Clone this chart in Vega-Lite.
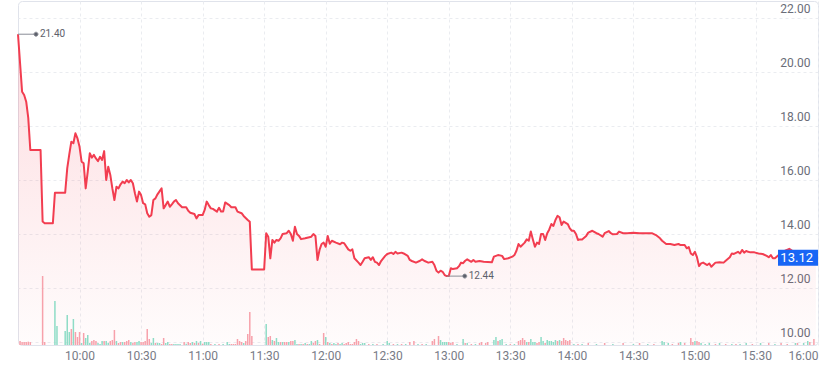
{
  "$schema": "https://vega.github.io/schema/vega-lite/v6.json",
  "width": 800,
  "height": 344,
  "autosize": {"type": "none"},
  "padding": {"left": 18, "top": 1, "right": 20, "bottom": 21},
  "background": "white",
  "config": {"view": {"stroke": "#e0e3eb", "cornerRadius": 4}, "font": "Roboto"},
  "datasets": {
    "price": [
      {"t":"09:30","p":21.40},{"t":"09:32","p":19.27},{"t":"09:33","p":19.15},{"t":"09:34","p":18.90},{"t":"09:35","p":18.30},{"t":"09:36","p":17.11},{"t":"09:41","p":17.11},{"t":"09:42","p":14.46},{"t":"09:43","p":14.40},{"t":"09:47","p":14.40},{"t":"09:48","p":15.53},{"t":"09:53","p":15.53},{"t":"09:54","p":16.43},{"t":"09:55","p":16.95},{"t":"09:56","p":17.42},{"t":"09:57","p":17.36},{"t":"09:58","p":17.73},{"t":"09:59","p":17.54},
      {"t":"10:00","p":17.23},{"t":"10:01","p":16.68},{"t":"10:02","p":16.62},{"t":"10:03","p":15.69},{"t":"10:04","p":16.31},{"t":"10:05","p":16.99},{"t":"10:06","p":16.83},{"t":"10:07","p":16.93},{"t":"10:08","p":16.80},{"t":"10:09","p":16.70},{"t":"10:10","p":16.86},{"t":"10:11","p":16.74},{"t":"10:12","p":17.07},{"t":"10:13","p":16.00},{"t":"10:14","p":16.49},{"t":"10:15","p":16.19},{"t":"10:16","p":15.69},{"t":"10:17","p":15.26},{"t":"10:18","p":15.75},{"t":"10:19","p":15.69},{"t":"10:20","p":15.84},{"t":"10:21","p":15.94},{"t":"10:22","p":15.88},{"t":"10:23","p":16.00},{"t":"10:24","p":15.91},{"t":"10:25","p":16.00},{"t":"10:26","p":15.88},{"t":"10:27","p":15.51},{"t":"10:28","p":15.20},{"t":"10:29","p":15.57},{"t":"10:30","p":15.44},{"t":"10:31","p":15.14},{"t":"10:32","p":15.10},{"t":"10:33","p":14.77},{"t":"10:34","p":14.64},{"t":"10:35","p":14.70},{"t":"10:36","p":15.26},{"t":"10:37","p":15.32},{"t":"10:38","p":15.47},{"t":"10:40","p":15.69},{"t":"10:41","p":14.95},{"t":"10:42","p":15.07},{"t":"10:43","p":15.20},{"t":"10:44","p":15.01},{"t":"10:45","p":15.10},{"t":"10:46","p":15.20},{"t":"10:47","p":15.26},{"t":"10:48","p":15.14},{"t":"10:50","p":14.99},{"t":"10:52","p":14.99},{"t":"10:53","p":14.86},{"t":"10:54","p":14.79},{"t":"10:56","p":14.74},{"t":"10:57","p":14.58},{"t":"10:58","p":14.70},
      {"t":"11:00","p":14.70},{"t":"11:01","p":14.89},{"t":"11:02","p":15.20},{"t":"11:03","p":15.07},{"t":"11:04","p":14.95},{"t":"11:05","p":14.93},{"t":"11:07","p":14.83},{"t":"11:08","p":14.97},{"t":"11:09","p":14.83},{"t":"11:10","p":14.83},{"t":"11:11","p":15.17},{"t":"11:13","p":15.07},{"t":"11:14","p":14.99},{"t":"11:16","p":14.99},{"t":"11:17","p":14.83},{"t":"11:19","p":14.77},{"t":"11:20","p":14.67},{"t":"11:22","p":14.52},{"t":"11:23","p":14.45},{"t":"11:24","p":12.69},{"t":"11:30","p":12.69},{"t":"11:31","p":14.03},{"t":"11:32","p":13.90},{"t":"11:33","p":13.10},{"t":"11:34","p":13.78},{"t":"11:35","p":13.68},{"t":"11:36","p":13.78},{"t":"11:37","p":13.75},{"t":"11:38","p":13.84},{"t":"11:39","p":14.00},{"t":"11:41","p":14.03},{"t":"11:42","p":14.12},{"t":"11:43","p":14.00},{"t":"11:44","p":13.75},{"t":"11:45","p":14.27},{"t":"11:46","p":14.00},{"t":"11:47","p":13.93},{"t":"11:48","p":13.81},{"t":"11:50","p":13.84},{"t":"11:53","p":13.90},{"t":"11:54","p":14.00},{"t":"11:55","p":13.93},{"t":"11:56","p":13.04},{"t":"11:57","p":13.41},{"t":"11:58","p":13.63},{"t":"11:59","p":13.68},
      {"t":"12:00","p":13.53},{"t":"12:01","p":13.93},{"t":"12:02","p":13.64},{"t":"12:03","p":13.75},{"t":"12:05","p":13.68},{"t":"12:07","p":13.62},{"t":"12:08","p":13.68},{"t":"12:09","p":13.66},{"t":"12:11","p":13.43},{"t":"12:12","p":13.38},{"t":"12:13","p":13.43},{"t":"12:14","p":13.10},{"t":"12:16","p":12.94},{"t":"12:17","p":12.85},{"t":"12:18","p":12.97},{"t":"12:19","p":13.10},{"t":"12:21","p":13.14},{"t":"12:22","p":13.04},{"t":"12:23","p":13.14},{"t":"12:24","p":12.97},{"t":"12:25","p":12.94},{"t":"12:26","p":12.85},{"t":"12:27","p":13.00},{"t":"12:29","p":13.19},{"t":"12:30","p":13.26},{"t":"12:32","p":13.31},{"t":"12:33","p":13.26},{"t":"12:34","p":13.34},{"t":"12:35","p":13.28},{"t":"12:37","p":13.31},{"t":"12:38","p":13.28},{"t":"12:40","p":13.19},{"t":"12:41","p":13.04},{"t":"12:42","p":13.00},{"t":"12:44","p":12.94},{"t":"12:46","p":13.01},{"t":"12:47","p":13.06},{"t":"12:48","p":13.01},{"t":"12:50","p":12.94},{"t":"12:52","p":12.97},{"t":"12:53","p":12.85},{"t":"12:54","p":12.64},{"t":"12:55","p":12.57},{"t":"12:56","p":12.64},{"t":"12:57","p":12.60},{"t":"12:58","p":12.48},{"t":"12:59","p":12.44},
      {"t":"13:00","p":12.44},{"t":"13:01","p":12.73},{"t":"13:02","p":12.70},{"t":"13:04","p":12.73},{"t":"13:05","p":12.81},{"t":"13:06","p":12.94},{"t":"13:07","p":12.92},{"t":"13:08","p":13.01},{"t":"13:09","p":13.06},{"t":"13:11","p":12.97},{"t":"13:12","p":13.04},{"t":"13:13","p":12.97},{"t":"13:15","p":13.00},{"t":"13:17","p":12.97},{"t":"13:21","p":12.95},{"t":"13:22","p":13.16},{"t":"13:24","p":13.22},{"t":"13:26","p":13.19},{"t":"13:27","p":13.07},{"t":"13:29","p":13.10},{"t":"13:31","p":13.16},{"t":"13:32","p":13.22},{"t":"13:33","p":13.38},{"t":"13:34","p":13.63},{"t":"13:35","p":13.53},{"t":"13:37","p":13.68},{"t":"13:38","p":13.80},{"t":"13:39","p":13.75},{"t":"13:40","p":14.09},{"t":"13:41","p":13.80},{"t":"13:42","p":13.53},{"t":"13:43","p":13.68},{"t":"13:44","p":13.63},{"t":"13:45","p":14.00},{"t":"13:46","p":14.00},{"t":"13:47","p":13.78},{"t":"13:48","p":14.03},{"t":"13:49","p":14.17},{"t":"13:50","p":14.37},{"t":"13:51","p":14.30},{"t":"13:52","p":14.52},{"t":"13:53","p":14.67},{"t":"13:54","p":14.62},{"t":"13:55","p":14.33},{"t":"13:56","p":14.46},{"t":"13:58","p":14.37},{"t":"13:59","p":14.21},
      {"t":"14:00","p":14.12},{"t":"14:01","p":14.12},{"t":"14:02","p":14.00},{"t":"14:03","p":13.78},{"t":"14:04","p":13.80},{"t":"14:05","p":13.80},{"t":"14:07","p":13.93},{"t":"14:08","p":14.05},{"t":"14:10","p":14.12},{"t":"14:12","p":14.03},{"t":"14:13","p":14.00},{"t":"14:15","p":13.90},{"t":"14:16","p":14.03},{"t":"14:18","p":14.11},{"t":"14:19","p":14.03},{"t":"14:20","p":13.99},{"t":"14:22","p":14.00},{"t":"14:23","p":14.09},{"t":"14:25","p":14.03},{"t":"14:27","p":14.03},{"t":"14:30","p":14.05},{"t":"14:33","p":14.03},{"t":"14:35","p":14.03},{"t":"14:39","p":14.03},{"t":"14:41","p":13.96},{"t":"14:43","p":13.84},{"t":"14:44","p":13.75},{"t":"14:46","p":13.63},{"t":"14:48","p":13.63},{"t":"14:50","p":13.59},{"t":"14:52","p":13.63},{"t":"14:53","p":13.59},{"t":"14:55","p":13.59},{"t":"14:56","p":13.47},{"t":"14:57","p":13.52},{"t":"14:58","p":13.28},{"t":"14:59","p":13.22},
      {"t":"15:00","p":13.34},{"t":"15:01","p":13.14},{"t":"15:02","p":12.81},{"t":"15:03","p":12.91},{"t":"15:04","p":12.94},{"t":"15:06","p":12.85},{"t":"15:07","p":12.91},{"t":"15:08","p":12.79},{"t":"15:10","p":12.94},{"t":"15:12","p":12.95},{"t":"15:14","p":12.94},{"t":"15:15","p":13.01},{"t":"15:17","p":13.14},{"t":"15:18","p":13.28},{"t":"15:19","p":13.26},{"t":"15:21","p":13.34},{"t":"15:22","p":13.28},{"t":"15:23","p":13.41},{"t":"15:24","p":13.31},{"t":"15:25","p":13.37},{"t":"15:26","p":13.34},{"t":"15:27","p":13.32},{"t":"15:29","p":13.32},{"t":"15:31","p":13.28},{"t":"15:33","p":13.26},{"t":"15:35","p":13.19},{"t":"15:36","p":13.14},{"t":"15:37","p":13.22},{"t":"15:38","p":13.10},{"t":"15:39","p":13.10},{"t":"15:42","p":13.30},{"t":"15:44","p":13.38},{"t":"15:46","p":13.45},{"t":"15:48","p":13.35},{"t":"15:50","p":13.30},{"t":"15:52","p":13.28},{"t":"15:56","p":13.18},{"t":"15:59","p":13.12}
    ],
    "vol": [
      {"tv":"09:31","v":6,"d":"dn"},{"tv":"09:32","v":4.5,"d":"dn"},{"tv":"09:33","v":4.5,"d":"dn"},{"tv":"09:34","v":4.5,"d":"dn"},{"tv":"09:35","v":5,"d":"dn"},{"tv":"09:36","v":4.5,"d":"dn"},{"tv":"09:42","v":103.5,"d":"dn"},{"tv":"09:43","v":4.5,"d":"dn"},{"tv":"09:48","v":66,"d":"up"},{"tv":"09:49","v":28.5,"d":"up"},{"tv":"09:53","v":21,"d":"up"},{"tv":"09:54","v":45,"d":"up"},{"tv":"09:55","v":19.5,"d":"up"},{"tv":"09:56","v":24,"d":"dn"},{"tv":"09:57","v":39,"d":"up"},{"tv":"09:58","v":19.5,"d":"dn"},{"tv":"09:59","v":12,"d":"dn"},
      {"tv":"10:00","v":19.5,"d":"dn"},{"tv":"10:01","v":3,"d":"up"},{"tv":"10:02","v":18,"d":"dn"},{"tv":"10:03","v":10.5,"d":"up"},{"tv":"10:04","v":15,"d":"up"},{"tv":"10:05","v":3,"d":"up"},{"tv":"10:06","v":6,"d":"dn"},{"tv":"10:07","v":7.5,"d":"dn"},{"tv":"10:08","v":6,"d":"dn"},{"tv":"10:09","v":3,"d":"up"},{"tv":"10:10","v":1.5,"d":"up"},{"tv":"10:11","v":6,"d":"up"},{"tv":"10:12","v":6,"d":"dn"},{"tv":"10:13","v":6,"d":"up"},{"tv":"10:14","v":3,"d":"up"},{"tv":"10:15","v":6,"d":"dn"},{"tv":"10:16","v":7.5,"d":"dn"},{"tv":"10:17","v":22.5,"d":"dn"},{"tv":"10:18","v":6,"d":"up"},{"tv":"10:19","v":3,"d":"dn"},{"tv":"10:20","v":4.5,"d":"dn"},{"tv":"10:21","v":4.5,"d":"up"},{"tv":"10:22","v":4.5,"d":"dn"},{"tv":"10:23","v":6,"d":"dn"},{"tv":"10:24","v":7.5,"d":"dn"},{"tv":"10:25","v":4.5,"d":"up"},{"tv":"10:26","v":3,"d":"dn"},{"tv":"10:27","v":4.5,"d":"dn"},{"tv":"10:28","v":4.5,"d":"up"},{"tv":"10:29","v":6,"d":"up"},{"tv":"10:30","v":4.5,"d":"dn"},{"tv":"10:31","v":4.5,"d":"dn"},{"tv":"10:32","v":6,"d":"dn"},{"tv":"10:33","v":24,"d":"dn"},{"tv":"10:34","v":9,"d":"dn"},{"tv":"10:35","v":3,"d":"up"},{"tv":"10:36","v":10.5,"d":"up"},{"tv":"10:37","v":3,"d":"dn"},{"tv":"10:38","v":3,"d":"up"},{"tv":"10:39","v":3,"d":"up"},{"tv":"10:40","v":1.5,"d":"dn"},{"tv":"10:41","v":10.5,"d":"dn"},{"tv":"10:42","v":3,"d":"up"},{"tv":"10:43","v":4.5,"d":"up"},{"tv":"10:44","v":1.5,"d":"dn"},{"tv":"10:45","v":1.5,"d":"dn"},{"tv":"10:46","v":1.5,"d":"up"},{"tv":"10:47","v":1.5,"d":"up"},{"tv":"10:48","v":1.5,"d":"up"},{"tv":"10:49","v":1.5,"d":"up"},{"tv":"10:51","v":4.5,"d":"dn"},{"tv":"10:52","v":2,"d":"up"},{"tv":"10:53","v":4.5,"d":"dn"},{"tv":"10:54","v":3,"d":"dn"},{"tv":"10:55","v":4.5,"d":"up"},{"tv":"10:56","v":3,"d":"dn"},{"tv":"10:57","v":6,"d":"up"},{"tv":"10:58","v":3,"d":"dn"},{"tv":"10:59","v":6,"d":"up"},
      {"tv":"11:00","v":2,"d":"dn"},{"tv":"11:01","v":4.5,"d":"up"},{"tv":"11:02","v":4.5,"d":"up"},{"tv":"11:03","v":4.5,"d":"up"},{"tv":"11:04","v":1.5,"d":"dn"},{"tv":"11:06","v":1.5,"d":"up"},{"tv":"11:08","v":1.5,"d":"dn"},{"tv":"11:10","v":1.5,"d":"up"},{"tv":"11:12","v":4.5,"d":"up"},{"tv":"11:13","v":1.5,"d":"up"},{"tv":"11:14","v":1.5,"d":"dn"},{"tv":"11:15","v":1.5,"d":"dn"},{"tv":"11:16","v":1.5,"d":"dn"},{"tv":"11:17","v":9,"d":"dn"},{"tv":"11:18","v":6,"d":"dn"},{"tv":"11:19","v":4.5,"d":"dn"},{"tv":"11:20","v":3,"d":"up"},{"tv":"11:21","v":6,"d":"dn"},{"tv":"11:22","v":16.5,"d":"dn"},{"tv":"11:23","v":49.5,"d":"dn"},{"tv":"11:24","v":13.5,"d":"dn"},{"tv":"11:31","v":31.5,"d":"up"},{"tv":"11:32","v":12,"d":"dn"},{"tv":"11:33","v":13.5,"d":"dn"},{"tv":"11:34","v":7.5,"d":"up"},{"tv":"11:35","v":6,"d":"dn"},{"tv":"11:36","v":10.5,"d":"up"},{"tv":"11:37","v":4.5,"d":"up"},{"tv":"11:38","v":4.5,"d":"dn"},{"tv":"11:39","v":4.5,"d":"up"},{"tv":"11:40","v":4.5,"d":"dn"},{"tv":"11:41","v":4.5,"d":"dn"},{"tv":"11:42","v":4.5,"d":"up"},{"tv":"11:43","v":6,"d":"dn"},{"tv":"11:44","v":6,"d":"dn"},{"tv":"11:45","v":7.5,"d":"up"},{"tv":"11:46","v":1.5,"d":"up"},{"tv":"11:47","v":1.5,"d":"dn"},{"tv":"11:48","v":1.5,"d":"up"},{"tv":"11:49","v":1.5,"d":"dn"},{"tv":"11:50","v":3,"d":"up"},{"tv":"11:51","v":1.5,"d":"dn"},{"tv":"11:52","v":1.5,"d":"up"},{"tv":"11:53","v":6,"d":"up"},{"tv":"11:54","v":3,"d":"dn"},{"tv":"11:55","v":6,"d":"dn"},{"tv":"11:56","v":7.5,"d":"up"},{"tv":"11:57","v":1.5,"d":"dn"},{"tv":"11:59","v":18,"d":"dn"},
      {"tv":"12:00","v":12,"d":"up"},{"tv":"12:01","v":4.5,"d":"dn"},{"tv":"12:02","v":3,"d":"up"},{"tv":"12:03","v":1.5,"d":"dn"},{"tv":"12:04","v":3,"d":"up"},{"tv":"12:05","v":1.5,"d":"up"},{"tv":"12:06","v":3,"d":"dn"},{"tv":"12:07","v":1.5,"d":"up"},{"tv":"12:08","v":3,"d":"up"},{"tv":"12:09","v":1.5,"d":"dn"},{"tv":"12:10","v":3,"d":"dn"},{"tv":"12:11","v":4.5,"d":"dn"},{"tv":"12:12","v":1.5,"d":"dn"},{"tv":"12:13","v":1.5,"d":"dn"},{"tv":"12:14","v":4.5,"d":"dn"},{"tv":"12:15","v":9,"d":"dn"},{"tv":"12:16","v":6,"d":"dn"},{"tv":"12:17","v":1.5,"d":"up"},{"tv":"12:18","v":3,"d":"up"},{"tv":"12:19","v":3,"d":"up"},{"tv":"12:21","v":1.5,"d":"dn"},{"tv":"12:23","v":1.5,"d":"up"},{"tv":"12:25","v":1.5,"d":"dn"},{"tv":"12:28","v":1.5,"d":"up"},{"tv":"12:30","v":6,"d":"up"},{"tv":"12:31","v":3,"d":"up"},{"tv":"12:33","v":1.5,"d":"dn"},{"tv":"12:35","v":1.5,"d":"up"},{"tv":"12:37","v":1.5,"d":"dn"},{"tv":"12:39","v":1.5,"d":"up"},{"tv":"12:41","v":4.5,"d":"dn"},{"tv":"12:43","v":6,"d":"dn"},{"tv":"12:45","v":1.5,"d":"up"},{"tv":"12:47","v":1.5,"d":"dn"},{"tv":"12:49","v":1.5,"d":"up"},{"tv":"12:52","v":6,"d":"dn"},{"tv":"12:53","v":9,"d":"dn"},{"tv":"12:55","v":13.5,"d":"dn"},{"tv":"12:56","v":7.5,"d":"up"},{"tv":"12:57","v":4.5,"d":"up"},{"tv":"12:58","v":4.5,"d":"up"},{"tv":"12:59","v":4.5,"d":"up"},
      {"tv":"13:00","v":4.5,"d":"dn"},{"tv":"13:01","v":3,"d":"dn"},{"tv":"13:02","v":4.5,"d":"dn"},{"tv":"13:04","v":1.5,"d":"up"},{"tv":"13:07","v":9,"d":"up"},{"tv":"13:08","v":3,"d":"dn"},{"tv":"13:09","v":3,"d":"up"},{"tv":"13:11","v":1.5,"d":"dn"},{"tv":"13:13","v":1.5,"d":"up"},{"tv":"13:15","v":3,"d":"dn"},{"tv":"13:16","v":4.5,"d":"dn"},{"tv":"13:18","v":3,"d":"dn"},{"tv":"13:19","v":4.5,"d":"dn"},{"tv":"13:22","v":7.5,"d":"up"},{"tv":"13:23","v":12,"d":"up"},{"tv":"13:24","v":6,"d":"dn"},{"tv":"13:25","v":7.5,"d":"up"},{"tv":"13:26","v":9,"d":"up"},{"tv":"13:28","v":1.5,"d":"up"},{"tv":"13:30","v":1.5,"d":"dn"},{"tv":"13:32","v":1.5,"d":"up"},{"tv":"13:34","v":6,"d":"dn"},{"tv":"13:35","v":7.5,"d":"dn"},{"tv":"13:36","v":10.5,"d":"dn"},{"tv":"13:37","v":7.5,"d":"dn"},{"tv":"13:38","v":4.5,"d":"up"},{"tv":"13:39","v":4.5,"d":"dn"},{"tv":"13:40","v":9,"d":"up"},{"tv":"13:41","v":4.5,"d":"up"},{"tv":"13:42","v":4.5,"d":"up"},{"tv":"13:43","v":3,"d":"dn"},{"tv":"13:44","v":4.5,"d":"dn"},{"tv":"13:45","v":12,"d":"up"},{"tv":"13:46","v":6,"d":"up"},{"tv":"13:47","v":3,"d":"dn"},{"tv":"13:48","v":7.5,"d":"up"},{"tv":"13:49","v":6,"d":"up"},{"tv":"13:50","v":6,"d":"up"},{"tv":"13:51","v":4.5,"d":"up"},{"tv":"13:52","v":7.5,"d":"up"},{"tv":"13:53","v":6,"d":"dn"},{"tv":"13:54","v":7.5,"d":"up"},{"tv":"13:55","v":6,"d":"dn"},{"tv":"13:56","v":10.5,"d":"dn"},{"tv":"13:57","v":7.5,"d":"dn"},{"tv":"13:58","v":6,"d":"dn"},{"tv":"13:59","v":7.5,"d":"dn"},
      {"tv":"14:01","v":1.5,"d":"up"},{"tv":"14:03","v":1.5,"d":"dn"},{"tv":"14:05","v":1.5,"d":"up"},{"tv":"14:08","v":3,"d":"dn"},{"tv":"14:12","v":1.5,"d":"up"},{"tv":"14:16","v":3,"d":"dn"},{"tv":"14:20","v":1.5,"d":"up"},{"tv":"14:25","v":3,"d":"dn"},{"tv":"14:30","v":1.5,"d":"up"},{"tv":"14:33","v":3,"d":"dn"},{"tv":"14:37","v":1.5,"d":"up"},{"tv":"14:40","v":1.5,"d":"dn"},{"tv":"14:44","v":6,"d":"up"},{"tv":"14:45","v":4.5,"d":"up"},{"tv":"14:47","v":3,"d":"up"},{"tv":"14:49","v":1.5,"d":"dn"},{"tv":"14:52","v":3,"d":"dn"},{"tv":"14:53","v":4.5,"d":"up"},{"tv":"14:55","v":3,"d":"dn"},{"tv":"14:58","v":10.5,"d":"dn"},{"tv":"14:59","v":4.5,"d":"dn"},
      {"tv":"15:00","v":6,"d":"up"},{"tv":"15:01","v":6,"d":"dn"},{"tv":"15:02","v":4.5,"d":"dn"},{"tv":"15:03","v":3,"d":"up"},{"tv":"15:05","v":1.5,"d":"up"},{"tv":"15:07","v":3,"d":"up"},{"tv":"15:10","v":1.5,"d":"dn"},{"tv":"15:12","v":3,"d":"up"},{"tv":"15:15","v":1.5,"d":"dn"},{"tv":"15:18","v":1.5,"d":"up"},{"tv":"15:20","v":1.5,"d":"dn"},{"tv":"15:22","v":1.5,"d":"up"},{"tv":"15:25","v":3,"d":"up"},{"tv":"15:28","v":1.5,"d":"dn"},{"tv":"15:32","v":3,"d":"up"},{"tv":"15:36","v":3,"d":"dn"},{"tv":"15:39","v":1.5,"d":"up"},{"tv":"15:42","v":3,"d":"dn"},{"tv":"15:45","v":1.5,"d":"dn"},{"tv":"15:49","v":3,"d":"up"},{"tv":"15:50","v":3,"d":"dn"},{"tv":"15:53","v":3,"d":"up"},{"tv":"15:55","v":6,"d":"up"},{"tv":"15:56","v":4.5,"d":"dn"},{"tv":"15:58","v":9,"d":"dn"}
    ],
    "marks": [
      {"tm":"09:30","pm":21.40,"label":"21.40"},
      {"tm":"12:59","pm":12.44,"label":"12.44"}
    ],
    "last": [
      {"tl":"16:00","pl":13.12,"label":"13.12"}
    ]
  },
  "data": {"name": "price", "format": {"parse": {"t": "date:'%H:%M'"}}},
  "layer": [
    {
      "mark": {
        "type": "area",
        "fill": {"gradient": "linear", "x1": 0, "y1": 0, "x2": 0, "y2": 1,
          "stops": [{"offset": 0, "color": "rgba(242,61,80,0.18)"}, {"offset": 1, "color": "rgba(242,61,80,0.015)"}]}
      },
      "encoding": {
        "x": {
          "field": "t", "type": "temporal",
          "scale": {"padding": 0, "domain": [{"year": 1900, "month": 1, "date": 1, "hours": 9, "minutes": 30}, {"year": 1900, "month": 1, "date": 1, "hours": 16, "minutes": 0}]},
          "axis": {
            "title": null, "format": "%H:%M",
            "values": [
              {"year": 1900, "month": 1, "date": 1, "hours": 10, "minutes": 0},
              {"year": 1900, "month": 1, "date": 1, "hours": 10, "minutes": 30},
              {"year": 1900, "month": 1, "date": 1, "hours": 11, "minutes": 0},
              {"year": 1900, "month": 1, "date": 1, "hours": 11, "minutes": 30},
              {"year": 1900, "month": 1, "date": 1, "hours": 12, "minutes": 0},
              {"year": 1900, "month": 1, "date": 1, "hours": 12, "minutes": 30},
              {"year": 1900, "month": 1, "date": 1, "hours": 13, "minutes": 0},
              {"year": 1900, "month": 1, "date": 1, "hours": 13, "minutes": 30},
              {"year": 1900, "month": 1, "date": 1, "hours": 14, "minutes": 0},
              {"year": 1900, "month": 1, "date": 1, "hours": 14, "minutes": 30},
              {"year": 1900, "month": 1, "date": 1, "hours": 15, "minutes": 0},
              {"year": 1900, "month": 1, "date": 1, "hours": 15, "minutes": 30},
              {"year": 1900, "month": 1, "date": 1, "hours": 16, "minutes": 0}
            ],
            "labelFont": "Roboto", "labelFontSize": 12, "labelColor": "#787b86", "labelPadding": 5,
            "ticks": false, "domain": false, "labelFlush": true,
            "grid": true, "gridColor": "#eaecf0", "gridDash": [3, 3]
          }
        },
        "y": {
          "field": "p", "type": "quantitative",
          "scale": {"domain": [9.889, 22.63], "zero": false, "nice": false},
          "axis": {
            "orient": "right", "title": null, "values": [10, 12, 14, 16, 18, 20, 22], "format": ".2f",
            "labelAlign": "right", "labelBaseline": "alphabetic", "labelOffset": -6, "labelPadding": -8,
            "ticks": false, "domain": false,
            "labelFont": "Roboto", "labelFontSize": 12, "labelColor": "#6a6d78",
            "grid": true, "gridColor": "#eaecf0", "gridDash": [3, 3]
          }
        },
        "y2": {"datum": 9.889}
      }
    },
    {
      "data": {"name": "vol", "format": {"parse": {"tv": "date:'%H:%M'"}}},
      "mark": {"type": "bar", "size": 1.5},
      "encoding": {
        "x": {"field": "tv", "type": "temporal"},
        "y": {"field": "v", "type": "quantitative", "scale": {"domain": [0, 516], "nice": false}, "axis": null},
        "color": {"field": "d", "type": "nominal", "scale": {"domain": ["up", "dn"], "range": ["#8edcc6", "#f7a1ab"]}, "legend": null}
      }
    },
    {
      "layer": [
        {
          "mark": {"type": "line", "color": "#f23d50", "strokeWidth": 2, "strokeJoin": "round"},
          "encoding": {
            "x": {"field": "t", "type": "temporal"},
            "y": {"field": "p", "type": "quantitative", "scale": {"domain": [9.889, 22.63], "zero": false, "nice": false}, "axis": null}
          }
        },
        {
          "data": {"name": "marks", "format": {"parse": {"tm": "date:'%H:%M'"}}},
          "layer": [
            {
              "mark": {"type": "point", "shape": "M0,0L1.6,0M2.0,0A0.2,0.2,0,1,1,1.6,0A0.2,0.2,0,1,1,2.0,0Z", "size": 400, "filled": true, "fill": "#5d606b", "stroke": "#8a8d96", "strokeWidth": 1, "opacity": 1},
              "encoding": {
                "x": {"field": "tm", "type": "temporal"},
                "y": {"field": "pm", "type": "quantitative"}
              }
            },
            {
              "mark": {"type": "text", "align": "left", "baseline": "middle", "dx": 22, "fontSize": 10, "color": "#5d606b"},
              "encoding": {
                "x": {"field": "tm", "type": "temporal"},
                "y": {"field": "pm", "type": "quantitative"},
                "text": {"field": "label"}
              }
            }
          ]
        },
        {
          "data": {"name": "last", "format": {"parse": {"tl": "date:'%H:%M'"}}},
          "layer": [
            {
              "mark": {"type": "point", "shape": "M-4,-0.8L0,-0.8L0,0.8L-4,0.8Z", "size": 400, "filled": true, "fill": "#1866f5", "opacity": 1},
              "encoding": {
                "x": {"field": "tl", "type": "temporal"},
                "y": {"field": "pl", "type": "quantitative"}
              }
            },
            {
              "mark": {"type": "text", "align": "right", "baseline": "middle", "dx": -5, "fontSize": 13, "color": "white"},
              "encoding": {
                "x": {"field": "tl", "type": "temporal"},
                "y": {"field": "pl", "type": "quantitative"},
                "text": {"field": "label"}
              }
            }
          ]
        }
      ]
    }
  ],
  "resolve": {"scale": {"y": "independent"}}
}
